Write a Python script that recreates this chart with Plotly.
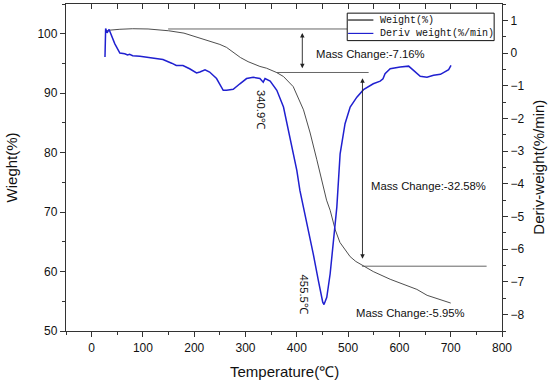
import plotly.graph_objects as go

# ---- data ----
temp_w = [26, 35, 55, 80, 110, 150, 180, 211, 237, 250, 263, 276, 290, 305, 328, 341,
          360, 374, 393, 413, 426, 439, 452, 458, 465, 475, 484, 494, 504, 515, 527,
          549, 582, 615, 634, 654, 680, 700]
weight = [100.39, 100.6, 100.75, 100.84, 100.8, 100.5, 100.1, 99.3, 98.5, 98.2, 97.7,
          96.9, 96.0, 95.3, 94.5, 94.2, 93.5, 92.8, 91.1, 87.2, 83.3, 78.8, 74.3, 72.0,
          70.3, 67.0, 64.9, 63.6, 62.5, 61.7, 61.07, 60.0, 58.7, 57.7, 57.0, 56.0, 55.2, 54.7]

temp_d = [26, 27.3, 30, 34, 45, 55, 64.5, 70, 74, 80, 94, 113, 139, 156, 165, 178, 191,
          204.5, 211, 221, 230, 243.5, 256.5, 263, 276, 289, 302, 315, 328, 334.5, 338,
          348, 361, 374, 387, 400, 406, 419, 432, 442, 450.5, 453, 458.4, 465, 471.3,
          478, 484.4, 494, 504, 517, 530, 549, 562.5, 568, 572, 582, 601.5, 618, 627.5,
          640.6, 653.7, 666.6, 680, 689.5, 696, 700.6]
deriv = [-0.12, 0.75, 0.62, 0.72, 0.29, 0.0, -0.02, -0.06, -0.04, -0.08, -0.10, -0.14,
         -0.20, -0.31, -0.38, -0.38, -0.48, -0.61, -0.58, -0.51, -0.58, -0.78, -1.14,
         -1.14, -1.11, -0.94, -0.78, -0.74, -0.78, -0.89, -0.78, -0.86, -1.14, -1.65,
         -2.57, -3.59, -4.2, -5.12, -6.14, -6.96, -7.62, -7.69, -7.47, -6.75, -5.73,
         -4.71, -3.08, -2.16, -1.65, -1.35, -1.12, -0.94, -0.86, -0.79, -0.63, -0.48,
         -0.43, -0.40, -0.53, -0.71, -0.74, -0.68, -0.65, -0.58, -0.51, -0.38]

series_names = ["Weight(%)", "Deriv weight(%/min)"]
series_colors = ["#1a1a1a", "#2020d0"]

# annotation levels (Weight %)
level_start = 100.8
level_mid = 93.48
level_end = 60.9
peak_labels = ["340.9℃", "455.5℃"]
mass_labels = ["Mass Change:-7.16%", "Mass Change:-32.58%", "Mass Change:-5.95%"]

FONT = "Liberation Sans, Arial, sans-serif"
MONO = "Liberation Mono, monospace"
AX = "#333333"

fig = go.Figure()
fig.add_trace(go.Scatter(x=temp_w, y=weight, mode="lines", name=series_names[0],
                         line=dict(color="#3a3a3a", width=0.9), yaxis="y",
                         showlegend=False))
fig.add_trace(go.Scatter(x=temp_d, y=deriv, mode="lines", name=series_names[1],
                         line=dict(color=series_colors[1], width=1.5), yaxis="y2",
                         showlegend=False))
fig.add_trace(go.Scatter(x=[], y=[], xaxis="x2", yaxis="y", showlegend=False))

LINE = dict(color="#555555", width=0.9)
shapes = [
    dict(type="line", xref="x", yref="y", x0=149, x1=498, y0=level_start, y1=level_start,
         line=LINE),
    dict(type="line", xref="x", yref="y", x0=360, x1=540, y0=level_mid, y1=level_mid,
         line=LINE),
    dict(type="line", xref="x", yref="y", x0=527, x1=770, y0=level_end, y1=level_end,
         line=LINE),
    # legend box and samples
    dict(type="rect", xref="paper", yref="paper", x0=0.645, x1=0.982, y0=0.888, y1=0.972,
         line=dict(color="#111", width=1), fillcolor="white"),
    dict(type="line", xref="paper", yref="paper", x0=0.647, x1=0.705, y0=0.951, y1=0.951,
         line=dict(color=series_colors[0], width=1.2)),
    dict(type="line", xref="paper", yref="paper", x0=0.647, x1=0.705, y0=0.910, y1=0.910,
         line=dict(color=series_colors[1], width=1.2)),
]

TXT = dict(family=FONT, size=11.3, color="#111")
TITLE = dict(family=FONT, size=15, color="#111")
ann = [
    dict(x=410.7, y=100.12, ax=410.7, ay=93.93, xref="x", yref="y", axref="x", ayref="y",
         text="", showarrow=True, arrowhead=2, arrowside="end+start", arrowsize=1,
         arrowwidth=0.9, arrowcolor="#222222", standoff=0, startstandoff=0),
    dict(x=528, y=92.53, ax=528, ay=61.9, xref="x", yref="y", axref="x", ayref="y",
         text="", showarrow=True, arrowhead=2, arrowside="end+start", arrowsize=1,
         arrowwidth=0.9, arrowcolor="#222222", standoff=0, startstandoff=0),
    dict(x=543.7, y=96.63, xref="x", yref="y", text=mass_labels[0], showarrow=False, font=TXT),
    dict(x=656.6, y=74.44, xref="x", yref="y", text=mass_labels[1], showarrow=False, font=TXT),
    dict(x=621.8, y=53.03, xref="x", yref="y", text=mass_labels[2], showarrow=False, font=TXT),
    dict(x=329.8, y=87.2, xref="x", yref="y", text=peak_labels[0], showarrow=False,
         textangle=90, font=TXT),
    dict(x=413.7, y=56.15, xref="x", yref="y", text=peak_labels[1], showarrow=False,
         textangle=90, font=TXT),
    # legend texts
    dict(x=0.716, y=0.951, xref="paper", yref="paper", xanchor="left", yanchor="middle",
         text=series_names[0], showarrow=False, font=dict(family=MONO, size=10, color="#111")),
    dict(x=0.716, y=0.910, xref="paper", yref="paper", xanchor="left", yanchor="middle",
         text=series_names[1], showarrow=False, font=dict(family=MONO, size=10, color="#111")),
    # axis titles
    dict(x=0.5, y=-0.125, xref="paper", yref="paper", xanchor="center", yanchor="middle",
         text="Temperature(℃)", showarrow=False, font=TITLE),
    dict(x=-0.124, y=0.5, xref="paper", yref="paper", xanchor="center", yanchor="middle",
         text="Wieght(%)", textangle=-90, showarrow=False, font=TITLE),
    dict(x=1.083, y=0.5, xref="paper", yref="paper", xanchor="center", yanchor="middle",
         text="Deriv-weight(%/min)", textangle=-90, showarrow=False, font=TITLE),
]

common = dict(showline=True, linecolor=AX, linewidth=1.3, showgrid=False, zeroline=False,
              automargin=False, tickcolor=AX, tickfont=dict(size=12))

fig.update_layout(
    width=550, height=387,
    margin=dict(l=66, r=48, t=4, b=56),
    paper_bgcolor="white", plot_bgcolor="white",
    font=dict(family=FONT, size=12, color="#111"),
    shapes=shapes, annotations=ann, showlegend=False,
    xaxis=dict(range=[-50, 800], dtick=100, tick0=0, ticks="outside", ticklen=5,
               minor=dict(dtick=50, tick0=0, ticks="outside", ticklen=3, tickcolor=AX,
                          showgrid=False), **common),
    xaxis2=dict(range=[-50, 800], overlaying="x", anchor="y", side="top", dtick=50,
                tick0=0, ticks="inside", ticklen=5, showticklabels=False, **common),
    yaxis=dict(range=[50, 105], dtick=10, tick0=0, ticks="outside", ticklen=5,
               minor=dict(dtick=5, tick0=0, ticks="outside", ticklen=3, tickcolor=AX,
                          showgrid=False), **common),
    yaxis2=dict(range=[-8.5, 1.5], dtick=1, tick0=0, overlaying="y", side="right",
                anchor="x", ticks="outside", ticklen=5,
                minor=dict(dtick=0.5, tick0=0, ticks="outside", ticklen=3, tickcolor=AX,
                           showgrid=False), **common),
)

fig.write_html("out.html", config={"displayModeBar": False},
               post_script="document.body.style.margin='0';"
                           "document.body.style.overflow='hidden';")
